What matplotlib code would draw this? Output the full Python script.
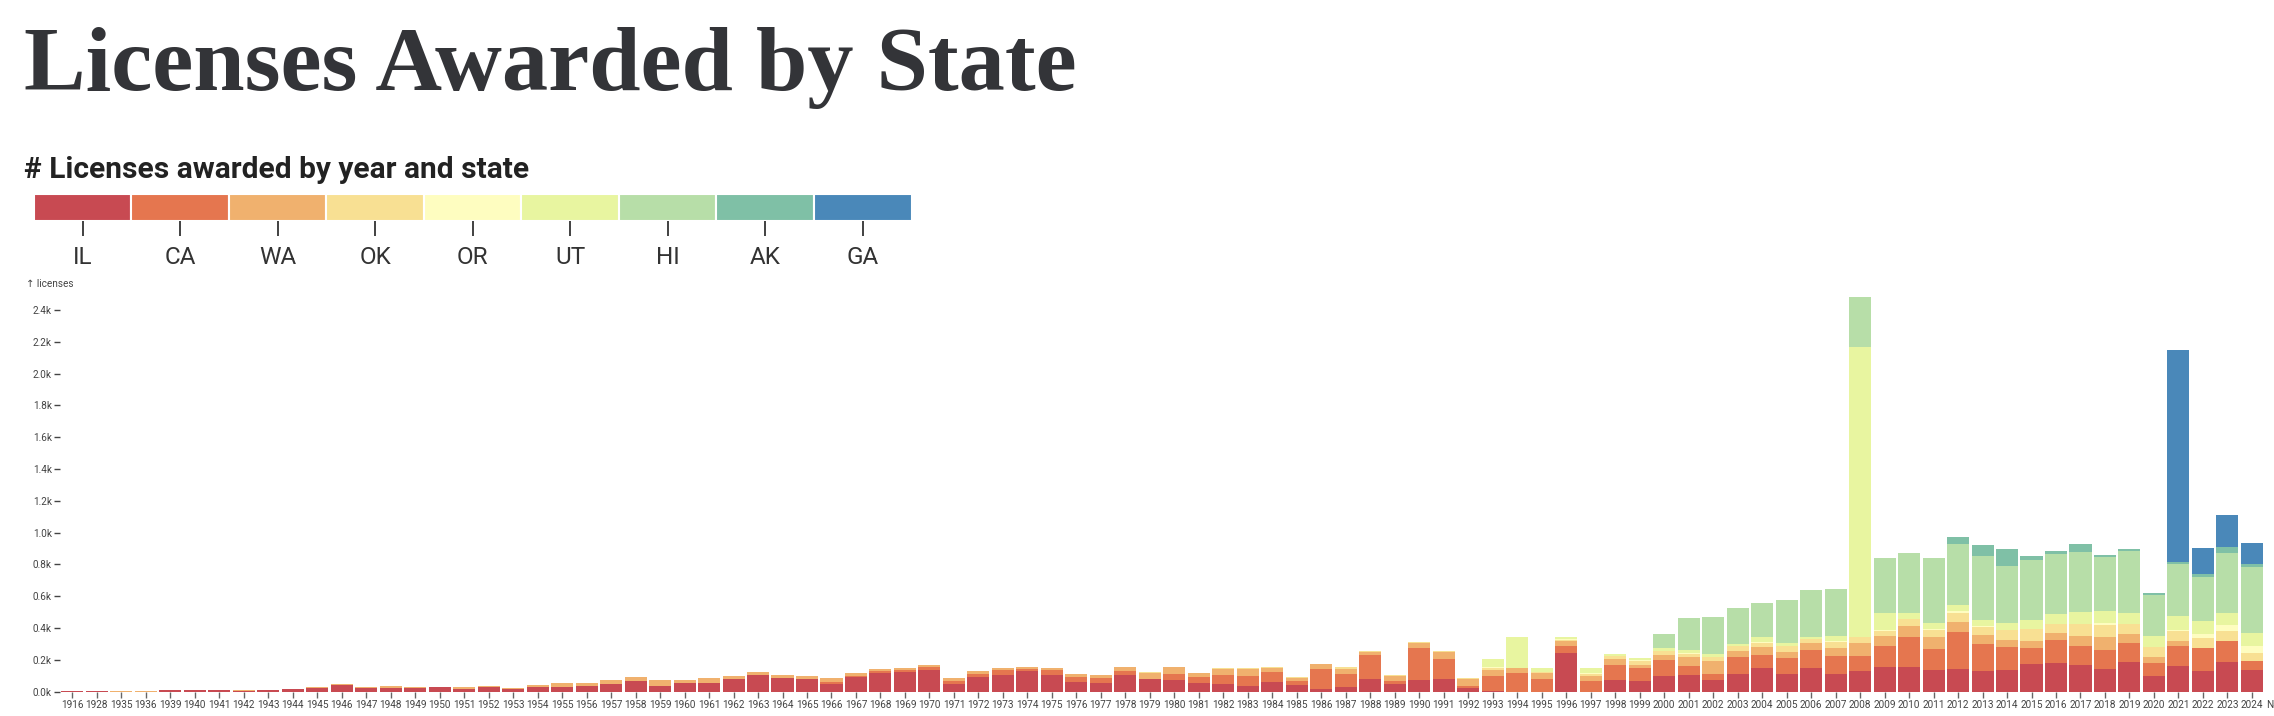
import numpy as np
import matplotlib.pyplot as plt

years = ['1916', '1928', '1935', '1936'] + [str(y) for y in range(1939, 2025)] + ['NaN']
states = ['IL', 'CA', 'WA', 'OK', 'OR', 'UT', 'HI', 'AK', 'GA']
colors = ['#c84a52', '#e5764f', '#f0b16e', '#f8e093', '#fefdc0',
          '#e8f5a0', '#b7dea8', '#7fc0a6', '#4a88b9']

# licenses per year, one list per state (1916 ... 2024, NaN)
IL = [2, 2, 0, 0, 10, 10, 9, 5, 10, 17, 21, 42, 23, 25, 21, 29, 19, 29, 17, 29, 29, 36,
      48, 67, 36, 55, 55, 80, 105, 84, 80, 48, 92, 117, 124, 136, 48, 92, 105, 130, 105, 61,
      55, 105, 80, 73, 55, 48, 36, 61, 42, 17, 29, 80, 48, 73, 80, 23, 2, 0, 0, 243,
      0, 73, 67, 99, 105, 73, 111, 149, 111, 149, 111, 130, 155, 155, 136, 143, 130, 136, 174, 180,
      168, 143, 187, 99, 161, 130, 187, 136, 0]
CA = [0, 0, 0, 0, 0, 0, 0, 0, 0, 0, 0, 0, 0, 0, 0, 0, 0, 0, 0, 0, 0, 0,
      0, 0, 0, 0, 0, 0, 0, 4, 0, 13, 7, 13, 12, 19, 19, 19, 31, 13, 31, 31,
      31, 25, 0, 38, 37, 57, 63, 63, 25, 126, 82, 151, 19, 202, 125, 13, 96, 117, 80, 44,
      67, 95, 82, 100, 56, 38, 107, 82, 101, 113, 113, 94, 132, 189, 132, 232, 170, 145, 101, 145,
      119, 119, 119, 81, 126, 145, 132, 57, 0]
WA = [0, 0, 6, 2, 0, 0, 2, 4, 0, 0, 6, 6, 6, 11, 6, 0, 8, 7, 6, 13, 26, 19,
      25, 25, 37, 18, 31, 19, 19, 17, 19, 25, 18, 13, 13, 13, 19, 19, 13, 12, 13, 19,
      19, 25, 37, 44, 25, 38, 44, 25, 19, 29, 32, 21, 32, 31, 45, 44, 38, 32, 37, 34,
      32, 37, 19, 32, 57, 82, 38, 50, 38, 44, 51, 82, 63, 69, 76, 63, 56, 44, 44, 44,
      63, 82, 57, 38, 31, 0, 0, 0, 0]
OK = [0, 0, 0, 0, 0, 0, 0, 0, 0, 0, 0, 0, 0, 0, 0, 0, 0, 0, 0, 0, 0, 0,
      0, 0, 0, 0, 0, 0, 0, 0, 0, 0, 0, 0, 0, 0, 0, 0, 0, 0, 0, 0,
      0, 0, 7, 0, 0, 3, 3, 6, 6, 3, 12, 6, 6, 6, 8, 6, 11, 0, 9, 6,
      12, 19, 25, 25, 19, 27, 31, 25, 37, 25, 37, 38, 32, 46, 44, 59, 53, 63, 75, 57,
      76, 75, 63, 63, 63, 63, 63, 50, 0]
OR = [0, 0, 0, 0, 0, 0, 0, 0, 0, 0, 0, 0, 0, 0, 0, 0, 0, 0, 0, 0, 0, 0,
      0, 0, 0, 0, 0, 0, 0, 0, 0, 0, 0, 0, 0, 0, 0, 0, 0, 0, 0, 0,
      0, 0, 0, 0, 0, 0, 0, 0, 0, 0, 0, 0, 0, 0, 0, 0, 6, 0, 0, 4,
      6, 0, 4, 0, 6, 0, 3, 6, 0, 0, 7, 0, 6, 0, 6, 10, 6, 0, 0, 0,
      0, 13, 0, 0, 6, 25, 37, 44, 0]
UT = [0, 0, 0, 0, 0, 0, 0, 0, 0, 0, 0, 0, 0, 0, 0, 0, 0, 0, 0, 0, 0, 0,
      0, 0, 0, 0, 0, 0, 0, 0, 0, 0, 0, 0, 0, 0, 0, 0, 0, 0, 0, 0,
      0, 0, 0, 0, 0, 0, 0, 0, 0, 0, 0, 0, 0, 0, 0, 0, 52, 195, 23, 13,
      32, 13, 15, 19, 19, 17, 10, 32, 19, 13, 31, 1824, 107, 36, 38, 38, 36, 44, 57, 63,
      75, 75, 69, 69, 88, 82, 76, 82, 0]
HI = [0, 0, 0, 0, 0, 0, 0, 0, 0, 0, 0, 0, 0, 0, 0, 0, 0, 0, 0, 0, 0, 0,
      0, 0, 0, 0, 0, 0, 0, 0, 0, 0, 0, 0, 0, 0, 0, 0, 0, 0, 0, 0,
      0, 0, 0, 0, 0, 0, 0, 0, 0, 0, 0, 0, 0, 0, 0, 0, 0, 0, 0, 0,
      0, 0, 0, 88, 201, 233, 226, 214, 271, 296, 296, 315, 346, 377, 409, 384, 402, 359, 377, 377,
      378, 340, 390, 258, 327, 276, 377, 413, 0]
AK = [0, 0, 0, 0, 0, 0, 0, 0, 0, 0, 0, 0, 0, 0, 0, 0, 0, 0, 0, 0, 0, 0,
      0, 0, 0, 0, 0, 0, 0, 0, 0, 0, 0, 0, 0, 0, 0, 0, 0, 0, 0, 0,
      0, 0, 0, 0, 0, 0, 0, 0, 0, 0, 0, 0, 0, 0, 0, 0, 0, 0, 0, 0,
      0, 0, 0, 0, 0, 0, 0, 0, 0, 0, 0, 0, 0, 0, 0, 44, 70, 107, 25, 19,
      50, 13, 13, 13, 13, 19, 38, 19, 0]
GA = [0] * 86 + [1333, 164, 201, 132, 0]

series = [IL, CA, WA, OK, OR, UT, HI, AK, GA]

W, H = 2274, 716
fig = plt.figure(figsize=(W / 100, H / 100), dpi=100)

fig.text(24 / W, 1 - 90 / H, 'Licenses Awarded by State', family='Liberation Serif',
         weight='bold', size=66.5, color='#333438', ha='left', va='baseline')
fig.text(24 / W, 1 - 178 / H, '# Licenses awarded by year and state', family='Roboto',
         weight='bold', size=21.5, color='#222222', ha='left', va='baseline')

# legend strip
leg = fig.add_axes([33.8 / W, 1 - 220.7 / H, 877.7 / W, 26.4 / H])
leg.bar(np.arange(len(states)), 1, width=1, color=colors, edgecolor='white', linewidth=1.5)
leg.set_xlim(-0.5, len(states) - 0.5)
leg.set_ylim(0, 1)
leg.set_xticks(np.arange(len(states)), states, family='Roboto', size=17.5, color='#333333')
leg.tick_params(axis='x', length=11, width=1.3, color='#333333', pad=7)
leg.set_yticks([])
for s in leg.spines.values():
    s.set_visible(False)

# main chart
x = np.arange(len(years))
ax = fig.add_axes([60.06 / W, 1 - 691.7 / H, 91 * 24.49 / W, 2540 * 0.15904 / H])
bottom = np.zeros(len(years))
for vals, c in zip(series, colors):
    vals = np.array(vals, dtype=float)
    ax.bar(x, vals, bottom=bottom, width=0.9, color=c, linewidth=0)
    bottom += vals

ax.set_xlim(-0.5, len(years) - 0.5)
ax.set_ylim(0, 2540)
ax.set_xticks(x, years)
yt = np.arange(0, 2401, 200)
ax.set_yticks(yt, [f'{v / 1000:.1f}k' for v in yt])
ax.tick_params(axis='x', length=4, width=1, color='#666666', pad=2,
               labelsize=7.2, labelcolor='#444444')
ax.tick_params(axis='y', length=4, width=1, color='#444444', pad=2,
               labelsize=7.2, labelcolor='#444444')
for lbl in ax.get_xticklabels() + ax.get_yticklabels():
    lbl.set_family('Roboto')
for s in ax.spines.values():
    s.set_visible(False)

fig.text(26 / W, 1 - 284 / H, '↑ licenses', family=['Roboto', 'DejaVu Sans'],
         size=7.2, color='#444444', ha='left', va='center')

fig.savefig('out.png', dpi=100)
